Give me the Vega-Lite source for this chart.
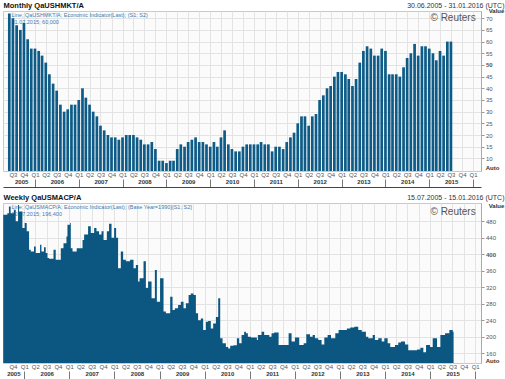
{
  "$schema": "https://vega.github.io/schema/vega-lite/v6.json",
  "padding": {"left": 2, "top": 0, "right": 0, "bottom": 0},
  "background": "white",
  "bounds": "flush",
  "spacing": 32,
  "config": {
    "font": "Liberation Sans",
    "view": {"fill": "#fbfbfb", "stroke": "#c9c9c9"},
    "axis": {"labelFont": "Liberation Sans", "titleFont": "Liberation Sans", "labelFontSize": 6, "labelColor": "#555", "labelFlush": false, "labelOverlap": false}
  },
  "datasets": {
    "monthly": [
      {"date": "2005-06-01", "value": 72}, {"date": "2005-07-01", "value": 70}, {"date": "2005-08-01", "value": 67}, {"date": "2005-09-01", "value": 65}, {"date": "2005-10-01", "value": 68}, {"date": "2005-11-01", "value": 61}, {"date": "2005-12-01", "value": 57},
      {"date": "2006-01-01", "value": 57}, {"date": "2006-02-01", "value": 56}, {"date": "2006-03-01", "value": 54}, {"date": "2006-04-01", "value": 51}, {"date": "2006-05-01", "value": 46}, {"date": "2006-06-01", "value": 42}, {"date": "2006-07-01", "value": 39}, {"date": "2006-08-01", "value": 33}, {"date": "2006-09-01", "value": 30}, {"date": "2006-10-01", "value": 31}, {"date": "2006-11-01", "value": 33}, {"date": "2006-12-01", "value": 33},
      {"date": "2007-01-01", "value": 35}, {"date": "2007-02-01", "value": 40}, {"date": "2007-03-01", "value": 36}, {"date": "2007-04-01", "value": 33}, {"date": "2007-05-01", "value": 30}, {"date": "2007-06-01", "value": 28}, {"date": "2007-07-01", "value": 24}, {"date": "2007-08-01", "value": 22}, {"date": "2007-09-01", "value": 20}, {"date": "2007-10-01", "value": 19}, {"date": "2007-11-01", "value": 19}, {"date": "2007-12-01", "value": 18},
      {"date": "2008-01-01", "value": 19}, {"date": "2008-02-01", "value": 20}, {"date": "2008-03-01", "value": 20}, {"date": "2008-04-01", "value": 20}, {"date": "2008-05-01", "value": 19}, {"date": "2008-06-01", "value": 18}, {"date": "2008-07-01", "value": 16}, {"date": "2008-08-01", "value": 16}, {"date": "2008-09-01", "value": 17}, {"date": "2008-10-01", "value": 14}, {"date": "2008-11-01", "value": 9}, {"date": "2008-12-01", "value": 9},
      {"date": "2009-01-01", "value": 8}, {"date": "2009-02-01", "value": 9}, {"date": "2009-03-01", "value": 9}, {"date": "2009-04-01", "value": 14}, {"date": "2009-05-01", "value": 16}, {"date": "2009-06-01", "value": 15}, {"date": "2009-07-01", "value": 17}, {"date": "2009-08-01", "value": 18}, {"date": "2009-09-01", "value": 19}, {"date": "2009-10-01", "value": 17}, {"date": "2009-11-01", "value": 17}, {"date": "2009-12-01", "value": 16},
      {"date": "2010-01-01", "value": 15}, {"date": "2010-02-01", "value": 17}, {"date": "2010-03-01", "value": 15}, {"date": "2010-04-01", "value": 19}, {"date": "2010-05-01", "value": 22}, {"date": "2010-06-01", "value": 16}, {"date": "2010-07-01", "value": 14}, {"date": "2010-08-01", "value": 13}, {"date": "2010-09-01", "value": 13}, {"date": "2010-10-01", "value": 15}, {"date": "2010-11-01", "value": 16}, {"date": "2010-12-01", "value": 16},
      {"date": "2011-01-01", "value": 16}, {"date": "2011-02-01", "value": 16}, {"date": "2011-03-01", "value": 17}, {"date": "2011-04-01", "value": 16}, {"date": "2011-05-01", "value": 16}, {"date": "2011-06-01", "value": 13}, {"date": "2011-07-01", "value": 15}, {"date": "2011-08-01", "value": 15}, {"date": "2011-09-01", "value": 14}, {"date": "2011-10-01", "value": 17}, {"date": "2011-11-01", "value": 19}, {"date": "2011-12-01", "value": 21},
      {"date": "2012-01-01", "value": 25}, {"date": "2012-02-01", "value": 28}, {"date": "2012-03-01", "value": 28}, {"date": "2012-04-01", "value": 24}, {"date": "2012-05-01", "value": 28}, {"date": "2012-06-01", "value": 29}, {"date": "2012-07-01", "value": 35}, {"date": "2012-08-01", "value": 37}, {"date": "2012-09-01", "value": 40}, {"date": "2012-10-01", "value": 41}, {"date": "2012-11-01", "value": 45}, {"date": "2012-12-01", "value": 47},
      {"date": "2013-01-01", "value": 47}, {"date": "2013-02-01", "value": 46}, {"date": "2013-03-01", "value": 44}, {"date": "2013-04-01", "value": 41}, {"date": "2013-05-01", "value": 44}, {"date": "2013-06-01", "value": 51}, {"date": "2013-07-01", "value": 56}, {"date": "2013-08-01", "value": 58}, {"date": "2013-09-01", "value": 57}, {"date": "2013-10-01", "value": 54}, {"date": "2013-11-01", "value": 54}, {"date": "2013-12-01", "value": 57},
      {"date": "2014-01-01", "value": 56}, {"date": "2014-02-01", "value": 46}, {"date": "2014-03-01", "value": 46}, {"date": "2014-04-01", "value": 46}, {"date": "2014-05-01", "value": 45}, {"date": "2014-06-01", "value": 49}, {"date": "2014-07-01", "value": 53}, {"date": "2014-08-01", "value": 55}, {"date": "2014-09-01", "value": 59}, {"date": "2014-10-01", "value": 54}, {"date": "2014-11-01", "value": 58}, {"date": "2014-12-01", "value": 58},
      {"date": "2015-01-01", "value": 57}, {"date": "2015-02-01", "value": 55}, {"date": "2015-03-01", "value": 52}, {"date": "2015-04-01", "value": 56}, {"date": "2015-05-01", "value": 54}, {"date": "2015-06-01", "value": 60}, {"date": "2015-07-01", "value": 60}
    ],
    "weekly": [
      {"date": "2005-07-15", "value": 496}, {"date": "2005-08-17", "value": 500}, {"date": "2005-08-30", "value": 516}, {"date": "2005-09-13", "value": 500}, {"date": "2005-10-10", "value": 508}, {"date": "2005-10-24", "value": 480}, {"date": "2005-11-12", "value": 520}, {"date": "2005-11-20", "value": 504}, {"date": "2005-12-17", "value": 464},
      {"date": "2006-01-05", "value": 476}, {"date": "2006-01-21", "value": 456}, {"date": "2006-02-09", "value": 411}, {"date": "2006-02-23", "value": 407}, {"date": "2006-03-21", "value": 419}, {"date": "2006-04-04", "value": 403}, {"date": "2006-05-09", "value": 423}, {"date": "2006-05-20", "value": 407}, {"date": "2006-06-10", "value": 417}, {"date": "2006-06-24", "value": 403}, {"date": "2006-07-08", "value": 391}, {"date": "2006-07-21", "value": 389}, {"date": "2006-08-26", "value": 411}, {"date": "2006-09-13", "value": 387}, {"date": "2006-10-24", "value": 415}, {"date": "2006-11-15", "value": 427}, {"date": "2006-12-09", "value": 443}, {"date": "2006-12-17", "value": 472},
      {"date": "2007-01-07", "value": 476}, {"date": "2007-01-13", "value": 415}, {"date": "2007-01-27", "value": 407}, {"date": "2007-03-02", "value": 415}, {"date": "2007-04-18", "value": 435}, {"date": "2007-05-01", "value": 448}, {"date": "2007-06-02", "value": 468}, {"date": "2007-06-24", "value": 452}, {"date": "2007-07-21", "value": 464}, {"date": "2007-08-09", "value": 456}, {"date": "2007-08-30", "value": 448}, {"date": "2007-09-19", "value": 456}, {"date": "2007-10-05", "value": 435}, {"date": "2007-11-01", "value": 456}, {"date": "2007-11-19", "value": 474}, {"date": "2007-12-09", "value": 440}, {"date": "2007-12-30", "value": 464},
      {"date": "2008-01-15", "value": 440}, {"date": "2008-01-31", "value": 366}, {"date": "2008-02-22", "value": 407}, {"date": "2008-03-12", "value": 387}, {"date": "2008-04-03", "value": 383}, {"date": "2008-05-07", "value": 387}, {"date": "2008-06-04", "value": 366}, {"date": "2008-06-23", "value": 374}, {"date": "2008-07-11", "value": 334}, {"date": "2008-07-23", "value": 342}, {"date": "2008-08-24", "value": 383}, {"date": "2008-09-12", "value": 318}, {"date": "2008-09-30", "value": 334}, {"date": "2008-10-28", "value": 293}, {"date": "2008-11-24", "value": 362}, {"date": "2008-12-10", "value": 285},
      {"date": "2009-01-05", "value": 342}, {"date": "2009-02-02", "value": 261}, {"date": "2009-02-21", "value": 257}, {"date": "2009-03-28", "value": 297}, {"date": "2009-04-16", "value": 265}, {"date": "2009-05-05", "value": 269}, {"date": "2009-05-31", "value": 277}, {"date": "2009-06-22", "value": 285}, {"date": "2009-07-14", "value": 269}, {"date": "2009-08-02", "value": 281}, {"date": "2009-08-24", "value": 301}, {"date": "2009-09-11", "value": 305}, {"date": "2009-10-03", "value": 301}, {"date": "2009-10-22", "value": 257}, {"date": "2009-11-09", "value": 240}, {"date": "2009-12-01", "value": 244}, {"date": "2009-12-20", "value": 216},
      {"date": "2010-01-11", "value": 236}, {"date": "2010-01-29", "value": 238}, {"date": "2010-02-20", "value": 220}, {"date": "2010-03-11", "value": 232}, {"date": "2010-04-02", "value": 248}, {"date": "2010-04-21", "value": 293}, {"date": "2010-05-07", "value": 196}, {"date": "2010-05-26", "value": 184}, {"date": "2010-06-22", "value": 175}, {"date": "2010-07-11", "value": 171}, {"date": "2010-07-27", "value": 178}, {"date": "2010-08-23", "value": 179}, {"date": "2010-09-19", "value": 196}, {"date": "2010-10-08", "value": 184}, {"date": "2010-10-27", "value": 204}, {"date": "2010-11-17", "value": 212}, {"date": "2010-12-01", "value": 208}, {"date": "2010-12-17", "value": 200},
      {"date": "2011-01-10", "value": 198}, {"date": "2011-02-28", "value": 192}, {"date": "2011-03-08", "value": 204}, {"date": "2011-04-07", "value": 212}, {"date": "2011-04-28", "value": 204}, {"date": "2011-06-08", "value": 200}, {"date": "2011-06-27", "value": 208}, {"date": "2011-07-18", "value": 210}, {"date": "2011-08-23", "value": 180}, {"date": "2011-11-12", "value": 208}, {"date": "2011-12-06", "value": 188},
      {"date": "2012-01-02", "value": 198}, {"date": "2012-02-06", "value": 180}, {"date": "2012-03-13", "value": 184}, {"date": "2012-04-03", "value": 206}, {"date": "2012-05-03", "value": 200}, {"date": "2012-05-25", "value": 204}, {"date": "2012-06-12", "value": 196}, {"date": "2012-07-09", "value": 192}, {"date": "2012-08-05", "value": 181}, {"date": "2012-08-27", "value": 198}, {"date": "2012-09-23", "value": 204}, {"date": "2012-10-20", "value": 196}, {"date": "2012-11-24", "value": 208}, {"date": "2012-12-21", "value": 216},
      {"date": "2013-02-26", "value": 220}, {"date": "2013-03-25", "value": 222}, {"date": "2013-04-27", "value": 224}, {"date": "2013-05-29", "value": 216}, {"date": "2013-06-26", "value": 212}, {"date": "2013-07-30", "value": 200}, {"date": "2013-08-18", "value": 196}, {"date": "2013-09-23", "value": 204}, {"date": "2013-10-11", "value": 192}, {"date": "2013-11-07", "value": 196}, {"date": "2013-12-05", "value": 188}, {"date": "2013-12-26", "value": 196},
      {"date": "2014-01-22", "value": 184}, {"date": "2014-02-12", "value": 175}, {"date": "2014-03-22", "value": 180}, {"date": "2014-04-18", "value": 186}, {"date": "2014-05-10", "value": 188}, {"date": "2014-06-12", "value": 181}, {"date": "2014-07-08", "value": 167}, {"date": "2014-09-17", "value": 169}, {"date": "2014-10-14", "value": 173}, {"date": "2014-11-07", "value": 162}, {"date": "2014-11-29", "value": 180}, {"date": "2014-12-31", "value": 175},
      {"date": "2015-01-22", "value": 196}, {"date": "2015-02-26", "value": 175}, {"date": "2015-03-25", "value": 204}, {"date": "2015-05-02", "value": 208}, {"date": "2015-06-06", "value": 216}, {"date": "2015-07-03", "value": 212}, {"date": "2015-07-10", "value": 196.4}
    ]
  },
  "vconcat": [
    {
      "width": 478,
      "height": 160,
      "data": {"name": "monthly"},
      "resolve": {"axis": {"x": "independent", "y": "independent"}},
      "layer": [
        {
          "mark": {"type": "bar", "width": 2.7, "color": "#0d5b86", "clip": true},
          "encoding": {
            "x": {"field": "date", "type": "temporal",
              "scale": {"domain": [{"year": 2005, "month": 5, "date": 21}, {"year": 2016, "month": 1, "date": 26}]},
              "axis": {"orient": "bottom", "title": null, "tickCount": {"interval": "month", "step": 3}, "labelExpr": "'Q' + (floor(month(datum.value)/3) + 1)", "labels": true, "ticks": false, "tickSize": 0, "labelPadding": 0, "domain": false, "grid": true, "gridColor": "#e3e3e3"}},
            "y": {"field": "value", "type": "quantitative",
              "scale": {"domain": [4.6, 73.1], "nice": false, "zero": false},
              "axis": {"orient": "right", "values": [10, 15, 20, 25, 30, 35, 40, 45, 50, 55, 60, 65, 70], "title": "Value", "titleAngle": 0, "titleX": 15, "titleY": -0.5, "titleAlign": "center", "titleBaseline": "middle", "titleFontSize": 6, "titleFontWeight": "bold", "titleColor": "#333", "domain": true, "domainColor": "#aaa", "ticks": true, "tickSize": 3, "tickColor": "#999", "labels": true, "labelPadding": 1.5, "labelFontWeight": {"condition": {"test": "datum.value == 50", "value": "bold"}, "value": "normal"}, "grid": true, "gridColor": "#e3e3e3"}}
          }
        },
        {
          "mark": {"type": "point", "opacity": 0, "clip": true},
          "encoding": {
            "x": {"field": "date", "type": "temporal",
              "scale": {"domain": [{"year": 2005, "month": 5, "date": 21}, {"year": 2016, "month": 1, "date": 26}]},
              "axis": {"orient": "bottom", "offset": 7, "title": null, "values": [{"year": 2005, "month": 9, "date": 8}, {"year": 2006, "month": 7, "date": 2}, {"year": 2007, "month": 7, "date": 2}, {"year": 2008, "month": 7, "date": 2}, {"year": 2009, "month": 7, "date": 2}, {"year": 2010, "month": 7, "date": 2}, {"year": 2011, "month": 7, "date": 2}, {"year": 2012, "month": 7, "date": 2}, {"year": 2013, "month": 7, "date": 2}, {"year": 2014, "month": 7, "date": 2}, {"year": 2015, "month": 7, "date": 2}], "format": "%Y", "labels": true, "labelFontWeight": "bold", "labelColor": "#333", "labelPadding": 0.5, "ticks": false, "tickSize": 0, "domain": false, "grid": false}},
            "y": {"field": "value", "type": "quantitative",
              "scale": {"domain": [4.6, 73.1], "nice": false, "zero": false},
              "axis": {"orient": "left", "title": ["Line; QaUSHMKT/A; Economic Indicator(Last); (S1; S2)", "31.07.2015; 60,000"], "titleAngle": 0, "titleX": 8, "titleY": 1.5, "titleAlign": "left", "titleBaseline": "top", "titleFontSize": 5.5, "titleFontWeight": "normal", "titleColor": "#3d7bb0", "titleLineHeight": 7, "domain": false, "ticks": false, "labels": false, "grid": false}}
          }
        },
        {
          "mark": {"type": "point", "opacity": 0, "clip": true},
          "encoding": {
            "x": {"field": "date", "type": "temporal",
              "scale": {"domain": [{"year": 2005, "month": 5, "date": 21}, {"year": 2016, "month": 1, "date": 26}]},
              "axis": {"orient": "bottom", "offset": 16, "title": null, "values": [{"year": 2006, "month": 1, "date": 1}, {"year": 2007, "month": 1, "date": 1}, {"year": 2008, "month": 1, "date": 1}, {"year": 2009, "month": 1, "date": 1}, {"year": 2010, "month": 1, "date": 1}, {"year": 2011, "month": 1, "date": 1}, {"year": 2012, "month": 1, "date": 1}, {"year": 2013, "month": 1, "date": 1}, {"year": 2014, "month": 1, "date": 1}, {"year": 2015, "month": 1, "date": 1}, {"year": 2016, "month": 1, "date": 1}], "labels": false, "ticks": true, "tickSize": -8, "tickColor": "#777", "domain": true, "domainColor": "#444", "domainWidth": 1.2, "grid": false}},
            "y": {"field": "value", "type": "quantitative",
              "scale": {"domain": [4.6, 73.1], "nice": false, "zero": false},
              "axis": {"orient": "right", "title": "Auto", "titleAngle": 0, "titleX": 11, "titleY": 156, "titleAlign": "center", "titleBaseline": "middle", "titleFontSize": 6, "titleFontWeight": "bold", "titleColor": "#333", "domain": false, "ticks": false, "labels": false, "grid": false}}
          }
        },
        {
          "mark": {"type": "point", "opacity": 0, "clip": true},
          "encoding": {
            "x": {"field": "date", "type": "temporal",
              "scale": {"domain": [{"year": 2005, "month": 5, "date": 21}, {"year": 2016, "month": 1, "date": 26}]},
              "axis": {"orient": "top", "title": "30.06.2005 - 31.01.2016 (UTC)", "titleX": 501, "titleY": -6, "titleAlign": "right", "titleBaseline": "middle", "titleFontSize": 7, "titleFontWeight": "normal", "titleColor": "#333", "labels": false, "ticks": false, "domain": false, "grid": false}},
            "y": {"field": "value", "type": "quantitative",
              "scale": {"domain": [4.6, 73.1], "nice": false, "zero": false},
              "axis": {"orient": "left", "title": "© Reuters", "titleAngle": 0, "titleX": 427, "titleY": 6.5, "titleAlign": "left", "titleBaseline": "middle", "titleFontSize": 10, "titleFontWeight": "normal", "titleColor": "#555", "domain": false, "ticks": false, "labels": false, "grid": false}}
          }
        },
        {
          "mark": {"type": "point", "opacity": 0, "clip": true},
          "encoding": {
            "x": {"field": "date", "type": "temporal",
              "scale": {"domain": [{"year": 2005, "month": 5, "date": 21}, {"year": 2016, "month": 1, "date": 26}]},
              "axis": {"orient": "top", "title": "Monthly QaUSHMKT/A", "titleX": 0, "titleY": -6, "titleAlign": "left", "titleBaseline": "middle", "titleFontSize": 7.5, "titleFontWeight": "bold", "titleColor": "#111", "labels": false, "ticks": false, "domain": false, "grid": false}},
            "y": {"field": "value", "type": "quantitative",
              "scale": {"domain": [4.6, 73.1], "nice": false, "zero": false},
              "axis": null}
          }
        }
      ]
    },
    {
      "width": 478,
      "height": 160,
      "data": {"name": "weekly"},
      "resolve": {"axis": {"x": "independent", "y": "independent"}},
      "layer": [
        {
          "mark": {"type": "area", "interpolate": "step-after", "color": "#0b5782", "clip": true},
          "encoding": {
            "x": {"field": "date", "type": "temporal",
              "scale": {"domain": [{"year": 2005, "month": 7, "date": 13}, {"year": 2016, "month": 2, "date": 17}]},
              "axis": {"orient": "bottom", "title": null, "tickCount": {"interval": "month", "step": 3}, "labelExpr": "'Q' + (floor(month(datum.value)/3) + 1)", "labels": true, "ticks": false, "tickSize": 0, "labelPadding": 0, "domain": false, "grid": true, "gridColor": "#e3e3e3"}},
            "y": {"field": "value", "type": "quantitative",
              "scale": {"domain": [136, 524.6], "nice": false, "zero": false},
              "axis": {"orient": "right", "values": [160, 200, 240, 280, 320, 360, 400, 440, 480], "title": "Value", "titleAngle": 0, "titleX": 15, "titleY": 2.5, "titleAlign": "center", "titleBaseline": "middle", "titleFontSize": 6, "titleFontWeight": "bold", "titleColor": "#333", "domain": true, "domainColor": "#aaa", "ticks": true, "tickSize": 3, "tickColor": "#999", "labels": true, "labelPadding": 1.5, "labelFontWeight": {"condition": {"test": "datum.value == 400", "value": "bold"}, "value": "normal"}, "grid": true, "gridColor": "#e3e3e3"}}
          }
        },
        {
          "mark": {"type": "point", "opacity": 0, "clip": true},
          "encoding": {
            "x": {"field": "date", "type": "temporal",
              "scale": {"domain": [{"year": 2005, "month": 7, "date": 13}, {"year": 2016, "month": 2, "date": 17}]},
              "axis": {"orient": "bottom", "offset": 7, "title": null, "values": [{"year": 2005, "month": 10, "date": 5}, {"year": 2006, "month": 7, "date": 2}, {"year": 2007, "month": 7, "date": 2}, {"year": 2008, "month": 7, "date": 2}, {"year": 2009, "month": 7, "date": 2}, {"year": 2010, "month": 7, "date": 2}, {"year": 2011, "month": 7, "date": 2}, {"year": 2012, "month": 7, "date": 2}, {"year": 2013, "month": 7, "date": 2}, {"year": 2014, "month": 7, "date": 2}, {"year": 2015, "month": 7, "date": 2}], "format": "%Y", "labels": true, "labelFontWeight": "bold", "labelColor": "#333", "labelPadding": 0.5, "ticks": false, "tickSize": 0, "domain": false, "grid": false}},
            "y": {"field": "value", "type": "quantitative",
              "scale": {"domain": [136, 524.6], "nice": false, "zero": false},
              "axis": {"orient": "left", "title": ["Line; QaUSMACP/A; Economic Indicator(Last); (Base Year=1990)[S1; S2]", "10.07.2015; 196,400"], "titleAngle": 0, "titleX": 8, "titleY": 1.5, "titleAlign": "left", "titleBaseline": "top", "titleFontSize": 5.5, "titleFontWeight": "normal", "titleColor": "#3d7bb0", "titleLineHeight": 7, "domain": false, "ticks": false, "labels": false, "grid": false}}
          }
        },
        {
          "mark": {"type": "point", "opacity": 0, "clip": true},
          "encoding": {
            "x": {"field": "date", "type": "temporal",
              "scale": {"domain": [{"year": 2005, "month": 7, "date": 13}, {"year": 2016, "month": 2, "date": 17}]},
              "axis": {"orient": "bottom", "offset": 16, "title": null, "values": [{"year": 2006, "month": 1, "date": 1}, {"year": 2007, "month": 1, "date": 1}, {"year": 2008, "month": 1, "date": 1}, {"year": 2009, "month": 1, "date": 1}, {"year": 2010, "month": 1, "date": 1}, {"year": 2011, "month": 1, "date": 1}, {"year": 2012, "month": 1, "date": 1}, {"year": 2013, "month": 1, "date": 1}, {"year": 2014, "month": 1, "date": 1}, {"year": 2015, "month": 1, "date": 1}, {"year": 2016, "month": 1, "date": 1}], "labels": false, "ticks": true, "tickSize": -8, "tickColor": "#777", "domain": true, "domainColor": "#444", "domainWidth": 1.2, "grid": false}},
            "y": {"field": "value", "type": "quantitative",
              "scale": {"domain": [136, 524.6], "nice": false, "zero": false},
              "axis": {"orient": "right", "title": "Auto", "titleAngle": 0, "titleX": 11, "titleY": 157, "titleAlign": "center", "titleBaseline": "middle", "titleFontSize": 6, "titleFontWeight": "bold", "titleColor": "#333", "domain": false, "ticks": false, "labels": false, "grid": false}}
          }
        },
        {
          "mark": {"type": "point", "opacity": 0, "clip": true},
          "encoding": {
            "x": {"field": "date", "type": "temporal",
              "scale": {"domain": [{"year": 2005, "month": 7, "date": 13}, {"year": 2016, "month": 2, "date": 17}]},
              "axis": {"orient": "top", "title": "15.07.2005 - 15.01.2016 (UTC)", "titleX": 501, "titleY": -6, "titleAlign": "right", "titleBaseline": "middle", "titleFontSize": 7, "titleFontWeight": "normal", "titleColor": "#333", "labels": false, "ticks": false, "domain": false, "grid": false}},
            "y": {"field": "value", "type": "quantitative",
              "scale": {"domain": [136, 524.6], "nice": false, "zero": false},
              "axis": {"orient": "left", "title": "© Reuters", "titleAngle": 0, "titleX": 427, "titleY": 8, "titleAlign": "left", "titleBaseline": "middle", "titleFontSize": 10, "titleFontWeight": "normal", "titleColor": "#555", "domain": false, "ticks": false, "labels": false, "grid": false}}
          }
        },
        {
          "mark": {"type": "point", "opacity": 0, "clip": true},
          "encoding": {
            "x": {"field": "date", "type": "temporal",
              "scale": {"domain": [{"year": 2005, "month": 7, "date": 13}, {"year": 2016, "month": 2, "date": 17}]},
              "axis": {"orient": "top", "title": "Weekly QaUSMACP/A", "titleX": 0, "titleY": -6, "titleAlign": "left", "titleBaseline": "middle", "titleFontSize": 7.5, "titleFontWeight": "bold", "titleColor": "#111", "labels": false, "ticks": false, "domain": false, "grid": false}},
            "y": {"field": "value", "type": "quantitative",
              "scale": {"domain": [136, 524.6], "nice": false, "zero": false},
              "axis": null}
          }
        }
      ]
    }
  ]
}
